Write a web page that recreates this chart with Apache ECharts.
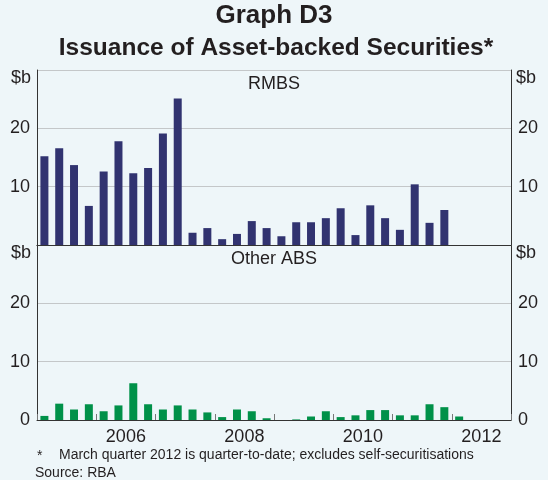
<!DOCTYPE html>
<html><head><meta charset="utf-8">
<script src="https://cdn.jsdelivr.net/npm/echarts@6/dist/echarts.min.js"></script>
<style>html,body{margin:0;padding:0;background:#eef6f9}#c{width:548px;height:480px}</style>
</head><body><div id="c"></div>
<script>
const quarters = ['2005Q1','2005Q2','2005Q3','2005Q4','2006Q1','2006Q2','2006Q3','2006Q4',
  '2007Q1','2007Q2','2007Q3','2007Q4','2008Q1','2008Q2','2008Q3','2008Q4',
  '2009Q1','2009Q2','2009Q3','2009Q4','2010Q1','2010Q2','2010Q3','2010Q4',
  '2011Q1','2011Q2','2011Q3','2011Q4','2012Q1','2012Q2','2012Q3','2012Q4'];
const rmbs = [15.2,16.6,13.7,6.7,12.6,17.8,12.3,13.2,19.1,25.1,2.1,2.9,1.0,1.9,4.1,2.9,
  1.5,3.9,3.9,4.6,6.3,1.7,6.8,4.6,2.6,10.4,3.8,6.0];
const otherAbs = [0.7,2.8,1.8,2.7,1.5,2.5,6.3,2.7,1.8,2.5,1.8,1.3,0.5,1.8,1.5,0.3,
  0,0.1,0.6,1.5,0.5,0.8,1.7,1.7,0.8,0.8,2.7,2.2,0.6];
const yearLabels = ['2006','2008','2010','2012'];

const FONT = '"Liberation Sans", Arial, sans-serif';
const TXT = '#231f20';
const LS = 18;
const chart = echarts.init(document.getElementById('c'));
const L = 37, R = 37;
const yAx = (grid, pos, hideZero) => ({
  type: 'value', gridIndex: grid, position: pos, min: 0, max: 30, interval: 10,
  axisLine: {show: true, lineStyle: {color: '#333', width: 1}},
  axisTick: {show: false},
  axisLabel: {color: TXT, fontSize: LS, fontFamily: FONT, margin: 7,
    formatter: v => (v === 30 || (hideZero && v === 0)) ? '' : String(v)},
  splitLine: {show: pos === 'left', lineStyle: {color: '#c4c7c9', width: 1}}
});
const txt = (t, x, y, align, size, bold) => ({
  type: 'text', x: x, y: y, silent: true,
  style: {text: t, textAlign: align, align: align, textVerticalAlign: 'middle', verticalAlign: 'middle',
    font: (bold ? 'bold ' : '') + size + 'px ' + FONT, fill: TXT}
});
chart.setOption({
  backgroundColor: '#eef6f9',
  animation: false,
  grid: [
    {left: L, right: R, top: 70, height: 175},
    {left: L, right: R, top: 245, height: 175}
  ],
  xAxis: [
    {type: 'category', gridIndex: 0, data: quarters, position: 'bottom',
      axisLine: {show: true, lineStyle: {color: '#777'}}, axisTick: {show: false}, axisLabel: {show: false}},
    {type: 'category', gridIndex: 0, data: quarters, position: 'top',
      axisLine: {show: true, lineStyle: {color: '#333'}}, axisTick: {show: false}, axisLabel: {show: false}},
    {type: 'category', gridIndex: 1, data: quarters, position: 'bottom',
      axisLine: {show: true, lineStyle: {color: '#333'}}, axisTick: {show: false}, axisLabel: {show: false}},
    {type: 'value', gridIndex: 1, min: 2005, max: 2013, interval: 1, position: 'bottom',
      axisLine: {show: false}, splitLine: {show: false}, axisLabel: {show: false},
      axisTick: {show: true, inside: true, length: 6, lineStyle: {color: '#777'}}},
    {type: 'value', gridIndex: 1, min: 2005, max: 2013, interval: 0.5, position: 'bottom',
      axisLine: {show: false}, splitLine: {show: false}, axisTick: {show: false},
      axisLabel: {show: true, color: TXT, fontSize: LS, fontFamily: FONT, margin: 8,
        formatter: v => { const y = String(Math.floor(v)); return (v % 1 === 0.5 && yearLabels.includes(y)) ? y : ''; }}}
  ],
  yAxis: [
    yAx(0, 'left', true), yAx(0, 'right', true),
    yAx(1, 'left', false), yAx(1, 'right', false)
  ],
  series: [
    {name: 'RMBS', type: 'bar', xAxisIndex: 0, yAxisIndex: 0, data: rmbs, barWidth: 8,
      itemStyle: {color: '#313370'}},
    {name: 'Other ABS', type: 'bar', xAxisIndex: 2, yAxisIndex: 2, data: otherAbs, barWidth: 8,
      itemStyle: {color: '#009149'}}
  ],
  graphic: [
    txt('Graph D3', 274, 16, 'center', 26, true),
    txt('Issuance of Asset-backed Securities*', 276, 48, 'center', 24.5, true),
    txt('$b', 31, 78, 'right', LS, false),
    txt('$b', 516, 78, 'left', LS, false),
    txt('$b', 31, 253, 'right', LS, false),
    txt('$b', 516, 253, 'left', LS, false),
    txt('RMBS', 274, 84, 'center', LS, false),
    txt('Other ABS', 274, 259, 'center', LS, false),
    txt('*', 37, 456, 'left', 14, false),
    txt('March quarter 2012 is quarter-to-date; excludes self-securitisations', 59, 455, 'left', 14, false),
    txt('Source: RBA', 35, 473, 'left', 14, false)
  ]
});
</script></body></html>
